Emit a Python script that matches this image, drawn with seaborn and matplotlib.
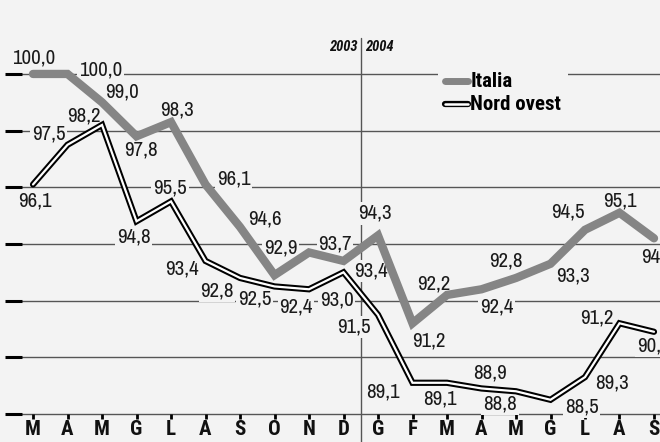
import matplotlib
matplotlib.use("Agg")
import matplotlib.pyplot as plt
import seaborn as sns
import numpy as np
import pandas as pd

# ---- data ----
months = ["M", "A", "M", "G", "L", "A", "S", "O", "N", "D",
          "G", "F", "M", "A", "M", "G", "L", "A", "S"]
italia = [100.0, 100.0, 99.0, 97.8, 98.3, 96.1, 94.6, 92.9, 93.7, 93.4,
          94.3, 91.2, 92.2, 92.4, 92.8, 93.3, 94.5, 95.1, 94.2]
nord_ovest = [96.1, 97.5, 98.2, 94.8, 95.5, 93.4, 92.8, 92.5, 92.4, 93.0,
              91.5, 89.1, 89.1, 88.9, 88.8, 88.5, 89.3, 91.2, 90.9]
grid_values = [100, 98, 96, 94, 92, 90, 88]
year_labels = ["2003", "2004"]
series_names = ["Italia", "Nord ovest"]

# label offsets in pixels (style, not data)
it_off = [(1, 16), (33, 4), (20, 10), (4, -14), (6, 12), (28, 5), (25, 8), (6, 27),
          (26, 8), (27, -10), (-3, 22), (16, -18), (-13, 11), (15, -18), (-10, 17),
          (22, -12), (-17, 18), (0, 12), (4, -19)]
no_off = [(2, -17), (-19, 11), (-18, 9), (-3, -16), (-1, 13), (-24, -8), (-23, -13),
          (-20, -13), (-13, -18), (-7, -28), (-24, -12), (-30, -9), (-7, -16),
          (8, 15), (-16, -13), (31, -7), (27, -6), (-23, 5), (0, -14)]

BG = "#f3f3f3"
GRAY = "#858585"
FONT = ["Archivo Narrow", "Roboto Condensed", "DejaVu Sans"]
BFONT = ["Roboto Condensed", "Archivo Narrow", "DejaVu Sans"]

sns.set_theme(style="white")
plt.rcParams["font.family"] = FONT

df = pd.DataFrame({"x": np.arange(len(months)), "Italia": italia, "Nord ovest": nord_ovest})

fig = plt.figure(figsize=(6.6, 4.42), dpi=100, facecolor=BG)
ax = fig.add_axes([0, 0, 1, 1])
ax.set_facecolor(BG)

# grid lines
for g in grid_values:
    ax.plot([-0.32, 18.3], [g, g], color="#555555", lw=1.0, zorder=1)
    ax.plot([-0.81, -0.32], [g, g], color="black", lw=2.2, zorder=1, solid_capstyle="butt")

# month ticks and labels
for i, m in enumerate(months):
    ax.plot([i, i], [88, 87.82], color="black", lw=2, zorder=2, solid_capstyle="butt")
    ax.text(i, 87.45, m, ha="center", va="center", fontsize=15, fontweight="bold",
            family=BFONT, color="#111111")

# year separator
ax.plot([9.5, 9.5], [101.27, 86.5], color="#555555", lw=1.0, zorder=1)
ax.text(9.41, 100.95, year_labels[0], ha="right", va="center", fontsize=10.5,
        fontweight="bold", fontstyle="italic", family=BFONT, color="#111111")
ax.text(9.62, 100.95, year_labels[1], ha="left", va="center", fontsize=10.5,
        fontweight="bold", fontstyle="italic", family=BFONT, color="#111111")

# lines via seaborn
sns.lineplot(data=df, x="x", y="Italia", ax=ax, color=GRAY, lw=6, zorder=5,
             solid_capstyle="round", solid_joinstyle="miter")
sns.lineplot(data=df, x="x", y="Nord ovest", ax=ax, color="black", lw=4.5, zorder=6,
             solid_capstyle="round", solid_joinstyle="miter")
sns.lineplot(data=df, x="x", y="Nord ovest", ax=ax, color="white", lw=1.6, zorder=7,
             solid_capstyle="round", solid_joinstyle="miter")
ax.set_xlabel("")
ax.set_ylabel("")
ax.set_xlim(-0.957, 18.174)
ax.set_ylim(87.01, 102.61)
for s in ax.spines.values():
    s.set_visible(False)
ax.set_xticks([])
ax.set_yticks([])

def fmt(v):
    return f"{v:.1f}".replace(".", ",")

bbox = dict(boxstyle="square,pad=0.08", fc=BG, ec="none")
for i, v in enumerate(italia):
    ax.annotate(fmt(v), (i, v), xytext=it_off[i], textcoords="offset pixels",
                ha="center", va="center", fontsize=15, family=FONT, color="#1a1a1a",
                bbox=bbox, zorder=3)
for i, v in enumerate(nord_ovest):
    ax.annotate(fmt(v), (i, v), xytext=no_off[i], textcoords="offset pixels",
                ha="center", va="center", fontsize=15, family=FONT, color="#1a1a1a",
                bbox=bbox, zorder=3)

# legend (manual)
ax.add_patch(plt.Rectangle((11.75, 99.6), 3.75, 0.8, fc=BG, ec="none", zorder=2))
ax.plot([11.95, 12.6], [99.75, 99.75], color=GRAY, lw=5, solid_capstyle="round", zorder=8)
ax.plot([11.95, 12.6], [98.95, 98.95], color="black", lw=4.5, solid_capstyle="round", zorder=8)
ax.plot([11.95, 12.6], [98.95, 98.95], color="white", lw=1.8, solid_capstyle="round", zorder=9)
ax.text(12.68, 99.72, series_names[0], ha="left", va="center", fontsize=15,
        fontweight="bold", family=BFONT, color="black", zorder=9)
ax.text(12.68, 98.92, series_names[1], ha="left", va="center", fontsize=15,
        fontweight="bold", family=BFONT, color="black", zorder=9)

fig.savefig("out.png", dpi=100, facecolor=BG)
